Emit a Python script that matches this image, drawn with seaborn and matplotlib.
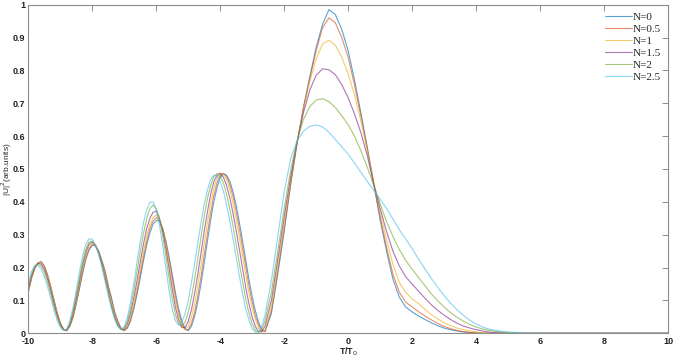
import numpy as np
import pandas as pd
import matplotlib
matplotlib.use("Agg")
import matplotlib.pyplot as plt
from matplotlib.lines import Line2D
import seaborn as sns

# ---- data ----
T = (list(np.round(np.arange(-10, -2.55, 0.1), 1))
     + list(np.round(np.arange(-2.4, 6.001, 0.2), 1)) + [8.0, 10.0])

labels = ["N=0", "N=0.5", "N=1", "N=1.5", "N=2", "N=2.5"]

n0 = [0.124, 0.166, 0.197, 0.214, 0.218, 0.205, 0.179, 0.143, 0.103, 0.064,
      0.032, 0.013, 0.008, 0.021, 0.048, 0.089, 0.136, 0.183, 0.225, 0.254,
      0.268, 0.266, 0.250, 0.222, 0.190, 0.145, 0.108, 0.065, 0.037, 0.015,
      0.008, 0.016, 0.038, 0.074, 0.118, 0.168, 0.220, 0.267, 0.305, 0.332,
      0.344, 0.341, 0.319, 0.282, 0.234, 0.180, 0.124, 0.075, 0.038, 0.015,
      0.008, 0.021, 0.051, 0.095, 0.150, 0.214, 0.280, 0.343, 0.400, 0.443,
      0.474, 0.486, 0.481, 0.463, 0.431, 0.390, 0.337, 0.281, 0.222, 0.164,
      0.111, 0.068, 0.034, 0.012, 0.005,
      0.060, 0.180, 0.310, 0.450, 0.575, 0.685, 0.780, 0.870, 0.940, 0.985, 0.970, 0.925,
      0.860, 0.770, 0.670, 0.565, 0.455, 0.345, 0.250, 0.165, 0.110, 0.080,
      0.065, 0.053, 0.042, 0.032, 0.023, 0.016, 0.011, 0.007, 0.004, 0.002,
      0.001, 0.0, 0.0, 0.0, 0.0, 0.0, 0.0, 0.0, 0.0, 0.0,
      0.0, 0.0, 0.0]
n05 = [0.127, 0.168, 0.198, 0.214, 0.218, 0.205, 0.178, 0.142, 0.102, 0.062,
       0.031, 0.012, 0.008, 0.023, 0.050, 0.094, 0.139, 0.189, 0.228, 0.258,
       0.270, 0.267, 0.250, 0.220, 0.188, 0.142, 0.106, 0.062, 0.036, 0.013,
       0.008, 0.018, 0.043, 0.081, 0.128, 0.180, 0.232, 0.279, 0.318, 0.342,
       0.352, 0.344, 0.319, 0.277, 0.225, 0.170, 0.112, 0.064, 0.030, 0.011,
       0.010, 0.030, 0.064, 0.114, 0.172, 0.238, 0.303, 0.366, 0.419, 0.458,
       0.481, 0.487, 0.477, 0.453, 0.417, 0.371, 0.318, 0.260, 0.202, 0.144,
       0.096, 0.052, 0.025, 0.007, 0.006,
       0.068, 0.190, 0.320, 0.455, 0.580, 0.685, 0.775, 0.860, 0.930, 0.960, 0.945, 0.900,
       0.840, 0.755, 0.660, 0.560, 0.455, 0.355, 0.262, 0.180, 0.125, 0.095,
       0.080, 0.066, 0.053, 0.041, 0.030, 0.021, 0.014, 0.009, 0.005, 0.003,
       0.002, 0.001, 0.0, 0.0, 0.0, 0.0, 0.0, 0.0, 0.0, 0.0,
       0.0, 0.0, 0.0]
n1 = [0.130, 0.167, 0.196, 0.213, 0.216, 0.201, 0.174, 0.138, 0.098, 0.060,
      0.029, 0.012, 0.008, 0.024, 0.055, 0.099, 0.148, 0.197, 0.238, 0.266,
      0.274, 0.267, 0.247, 0.216, 0.177, 0.135, 0.094, 0.055, 0.028, 0.012,
      0.009, 0.023, 0.051, 0.092, 0.142, 0.195, 0.248, 0.295, 0.331, 0.353,
      0.360, 0.347, 0.316, 0.270, 0.212, 0.153, 0.099, 0.052, 0.022, 0.012,
      0.021, 0.048, 0.090, 0.145, 0.207, 0.273, 0.336, 0.395, 0.440, 0.474,
      0.487, 0.485, 0.468, 0.438, 0.396, 0.348, 0.292, 0.235, 0.178, 0.123,
      0.077, 0.043, 0.016, 0.004, 0.010,
      0.080, 0.205, 0.335, 0.465, 0.580, 0.680, 0.765, 0.835, 0.880, 0.892, 0.877, 0.840,
      0.790, 0.725, 0.645, 0.555, 0.460, 0.370, 0.285, 0.210, 0.155, 0.125,
      0.105, 0.090, 0.073, 0.057, 0.044, 0.032, 0.023, 0.016, 0.011, 0.007,
      0.004, 0.002, 0.001, 0.0, 0.0, 0.0, 0.0, 0.0, 0.0, 0.0,
      0.0, 0.0, 0.0]
n15 = [0.136, 0.173, 0.200, 0.213, 0.211, 0.195, 0.167, 0.131, 0.090, 0.055,
       0.027, 0.011, 0.009, 0.027, 0.061, 0.107, 0.158, 0.208, 0.247, 0.272,
       0.278, 0.268, 0.245, 0.212, 0.171, 0.129, 0.085, 0.050, 0.025, 0.012,
       0.012, 0.030, 0.062, 0.108, 0.160, 0.216, 0.271, 0.318, 0.350, 0.368,
       0.372, 0.351, 0.312, 0.258, 0.197, 0.135, 0.079, 0.040, 0.018, 0.017,
       0.036, 0.071, 0.121, 0.179, 0.244, 0.310, 0.369, 0.423, 0.461, 0.482,
       0.487, 0.475, 0.450, 0.413, 0.366, 0.313, 0.255, 0.197, 0.139, 0.089,
       0.049, 0.021, 0.005, 0.005, 0.022,
       0.100, 0.225, 0.355, 0.475, 0.580, 0.670, 0.740, 0.785, 0.805, 0.802, 0.787, 0.757,
       0.717, 0.667, 0.610, 0.540, 0.455, 0.380, 0.310, 0.250, 0.205, 0.172,
       0.150, 0.128, 0.107, 0.087, 0.070, 0.055, 0.042, 0.031, 0.022, 0.016,
       0.011, 0.007, 0.004, 0.002, 0.001, 0.0, 0.0, 0.0, 0.0, 0.0,
       0.0, 0.0, 0.0]
n2 = [0.143, 0.181, 0.206, 0.211, 0.205, 0.187, 0.156, 0.121, 0.083, 0.049,
      0.024, 0.010, 0.010, 0.030, 0.068, 0.116, 0.169, 0.218, 0.256, 0.278,
      0.281, 0.268, 0.243, 0.208, 0.165, 0.122, 0.081, 0.046, 0.023, 0.011,
      0.016, 0.038, 0.078, 0.130, 0.189, 0.249, 0.303, 0.348, 0.379, 0.390,
      0.380, 0.349, 0.298, 0.235, 0.168, 0.107, 0.057, 0.027, 0.020, 0.033,
      0.063, 0.109, 0.164, 0.227, 0.293, 0.356, 0.411, 0.449, 0.477, 0.486,
      0.479, 0.458, 0.423, 0.380, 0.327, 0.271, 0.211, 0.158, 0.104, 0.061,
      0.029, 0.009, 0.003, 0.013, 0.038,
      0.125, 0.250, 0.380, 0.495, 0.585, 0.650, 0.690, 0.710, 0.714, 0.705, 0.687, 0.662,
      0.635, 0.600, 0.555, 0.505, 0.450, 0.395, 0.340, 0.295, 0.255, 0.222,
      0.195, 0.170, 0.145, 0.120, 0.099, 0.080, 0.063, 0.049, 0.037, 0.027,
      0.019, 0.013, 0.009, 0.006, 0.004, 0.002, 0.001, 0.0, 0.0, 0.0,
      0.0, 0.0, 0.0]
n25 = [0.150, 0.188, 0.204, 0.207, 0.196, 0.174, 0.143, 0.108, 0.071, 0.040,
       0.018, 0.009, 0.013, 0.038, 0.079, 0.132, 0.187, 0.236, 0.271, 0.288,
       0.286, 0.269, 0.240, 0.202, 0.159, 0.115, 0.076, 0.042, 0.020, 0.012,
       0.021, 0.049, 0.095, 0.152, 0.217, 0.279, 0.336, 0.375, 0.398, 0.400,
       0.377, 0.330, 0.268, 0.200, 0.131, 0.074, 0.038, 0.025, 0.034, 0.059,
       0.099, 0.153, 0.212, 0.275, 0.336, 0.393, 0.436, 0.468, 0.481, 0.479,
       0.462, 0.433, 0.391, 0.343, 0.288, 0.231, 0.175, 0.120, 0.074, 0.040,
       0.014, 0.003, 0.005, 0.022, 0.055,
       0.160, 0.295, 0.430, 0.530, 0.585, 0.615, 0.630, 0.634, 0.628, 0.612, 0.590, 0.568,
       0.545, 0.518, 0.490, 0.462, 0.435, 0.408, 0.380, 0.348, 0.315, 0.287,
       0.258, 0.226, 0.196, 0.167, 0.140, 0.115, 0.092, 0.072, 0.055, 0.040,
       0.028, 0.019, 0.013, 0.009, 0.006, 0.004, 0.003, 0.002, 0.001, 0.0005,
       0.0, 0.0, 0.0]

series = [n0, n05, n1, n15, n2, n25]
x_ticks = [-10, -8, -6, -4, -2, 0, 2, 4, 6, 8, 10]
x_ticklabels = ["-10", "-8", "-6", "-4", "-2", "0", "2", "4", "6", "8", "10"]
y_ticks = [0, 0.1, 0.2, 0.3, 0.4, 0.5, 0.6, 0.7, 0.8, 0.9, 1.0]
y_ticklabels = ["0", "0.1", "0.2", "0.3", "0.4", "0.5", "0.6", "0.7", "0.8", "0.9", "1"]

colors = ["#0072BD", "#D95319", "#EDB120", "#7E2F8E", "#77AC30", "#4DBEEE"]

for s in series:
    assert len(s) == len(T), (len(s), len(T))

df = pd.concat(
    [pd.DataFrame({"T": T, "I": s, "N": lab}) for lab, s in zip(labels, series)],
    ignore_index=True,
)

# ---- plot ----
sns.set_theme(style="white")
plt.rcParams["font.family"] = ["Liberation Sans", "DejaVu Sans"]

fig = plt.figure(figsize=(6.73, 3.59), dpi=100)
ax = fig.add_axes([0.042, 0.0716, 0.9506, 0.9153])

LW = 0.8
ALPHA = 0.65
sns.lineplot(data=df, x="T", y="I", hue="N", hue_order=labels,
             palette=colors, linewidth=LW, alpha=ALPHA, estimator=None,
             sort=False, legend=False, ax=ax)

ax.set_xlim(-10, 10)
ax.set_ylim(0, 1)
ax.set_xticks(x_ticks)
ax.set_xticklabels(x_ticklabels)
ax.set_yticks(y_ticks)
ax.set_yticklabels(y_ticklabels)

spine_col = "#8c8c8c"
for sp in ax.spines.values():
    sp.set_visible(True)
    sp.set_color(spine_col)
    sp.set_linewidth(0.8)

ax.tick_params(direction="in", top=True, right=True, length=4, width=0.7,
               color=spine_col, labelsize=6.5, pad=2, labelcolor="#222222")
ax.tick_params(axis="x", pad=3)
for lab in ax.get_xticklabels() + ax.get_yticklabels():
    lab.set_fontweight("bold")

ax.set_xlabel("T/T$_0$", fontsize=6.5, fontweight="bold")
ax.xaxis.set_label_coords(0.5, -0.038)
ax.set_ylabel("|U|$^2$(arb.units)", fontsize=6)
ax.yaxis.set_label_coords(-0.0225, 0.5)

handles = [Line2D([0], [0], color=c, lw=LW, alpha=ALPHA) for c in colors]
ax.legend(handles, labels, loc="upper right", bbox_to_anchor=(1.0, 0.997),
          frameon=False, prop={"family": "Liberation Serif", "size": 8},
          handlelength=2.4, handletextpad=0.1, labelspacing=0.2,
          borderaxespad=0.2)

fig.savefig("out.png", dpi=100)
